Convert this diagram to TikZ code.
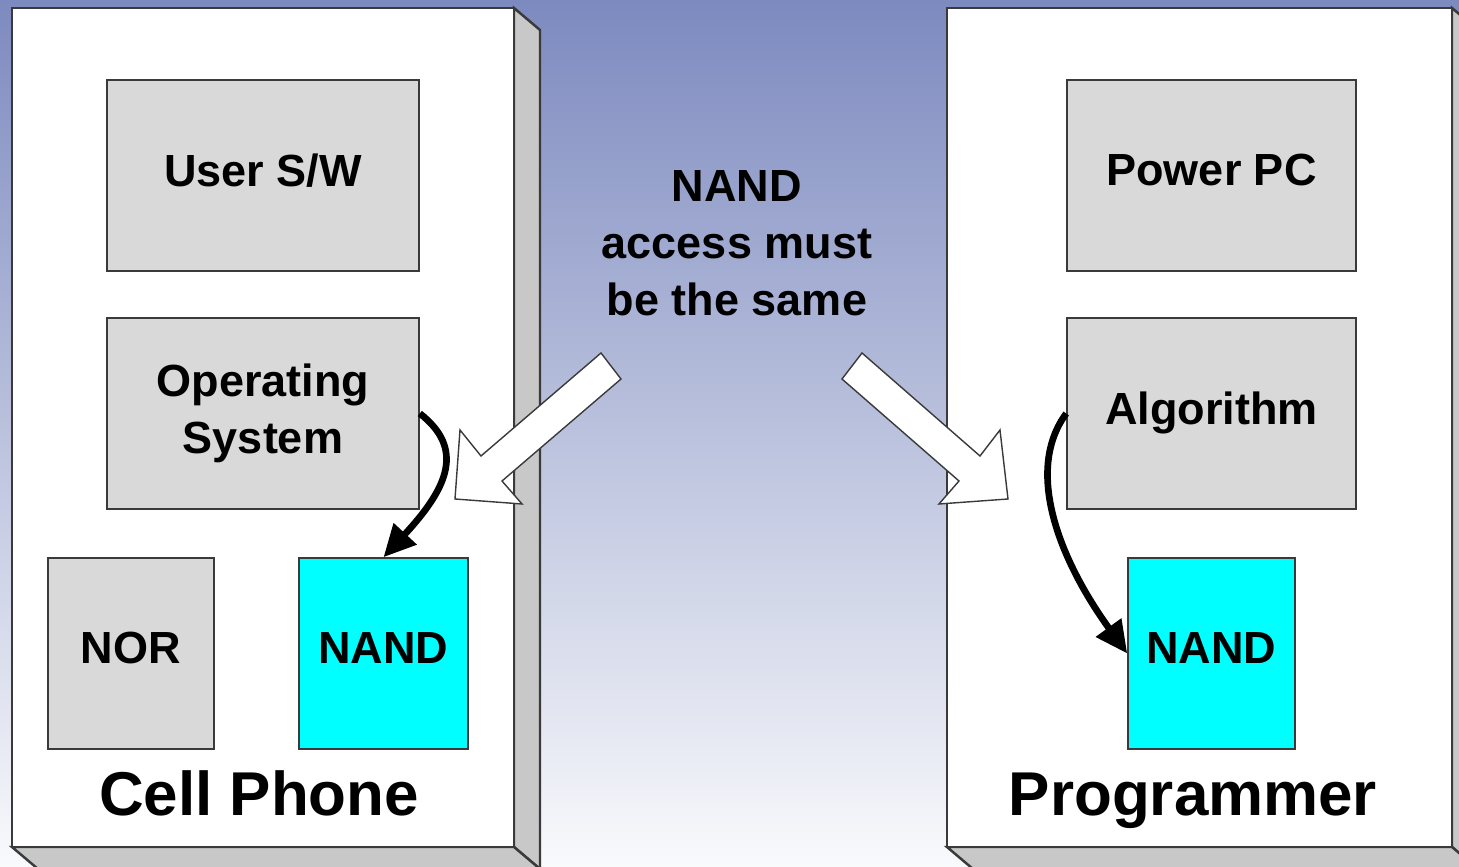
\documentclass[tikz,border=0pt]{standalone}
\usepackage{fontspec}
\setmainfont{Liberation Sans}
\usetikzlibrary{arrows.meta, positioning}
\definecolor{bgtop}{HTML}{7D8ABF}
\definecolor{bgbottom}{HTML}{F9FAFC}
\definecolor{sidegray}{HTML}{C8C8C8}
\definecolor{partgray}{HTML}{D9D9D9}
\definecolor{nandcyan}{HTML}{00FFFF}
\definecolor{edgegray}{HTML}{3A3A3A}

\begin{document}
\begin{tikzpicture}[
    x=0.01cm, y=-0.01cm,
    panel/.style={fill=white, draw=edgegray, line width=0.7pt},
    side/.style={fill=sidegray, draw=edgegray, line width=0.7pt},
    part/.style={draw=edgegray, fill=#1, minimum height=1.91cm, inner sep=0pt, align=center, text depth=0.3em, font=\fontsize{12.8}{16.2}\selectfont\bfseries},
    title/.style={anchor=base, font=\fontsize{17.6}{21}\selectfont\bfseries},
    flow/.style={-{Triangle[length=3.2mm, width=3mm]}, line width=1.9pt},
    bigarrow/.style={fill=white, draw=edgegray, line width=0.4pt, line join=miter},
]
    \useasboundingbox (0,0) rectangle (1459,867);
    \clip (0,0) rectangle (1459,867);
    \fill[top color=bgtop, bottom color=bgbottom] (0,0) rectangle (1459,867);

    % Panels (3D boxes)
    \draw[side] (514,8) -- (540,30) -- (540,869) -- (514,847) -- cycle;
    \draw[side] (12,847) -- (514,847) -- (540,869) -- (38,869) -- cycle;
    \draw[panel] (12,8) rectangle (514,847);

    \draw[side] (1452,8) -- (1478,30) -- (1478,869) -- (1452,847) -- cycle;
    \draw[side] (947,847) -- (1452,847) -- (1478,869) -- (973,869) -- cycle;
    \draw[panel] (947,8) rectangle (1452,847);

    % Cell phone parts
    \node[part=partgray, minimum width=3.12cm] (user) at (263,175.5) {User S/W};
    \node[part=partgray, minimum width=3.12cm] (os) at (263,413.5) {Operating\\System};
    \node[part=partgray, minimum width=1.66cm] (nor) at (131,653.5) {NOR};
    \node[part=nandcyan, minimum width=1.69cm] (nand1) at (383.5,653.5) {NAND};
    \node[title] (phone) at (259,816) {Cell Phone};

    % Programmer parts
    \node[part=partgray, minimum width=2.89cm] (ppc) at (1211.5,175.5) {Power PC};
    \node[part=partgray, minimum width=2.89cm] (algo) at (1211.5,413.5) {Algorithm};
    \node[part=nandcyan, minimum width=1.67cm] (nand2) at (1211.5,653.5) {NAND};
    \node[title] (prog) at (1193,816) {Programmer};

    % Note in the middle
    \node[align=center, font=\fontsize{12.8}{16.2}\selectfont\bfseries] (note) at (737,243) {NAND\\access must\\be the same};

    % Block arrows
    \draw[bigarrow] (601,353) -- (481,456) -- (460,430) -- (455,499) -- (522,504) -- (502,481) -- (621,379) -- cycle;
    \draw[bigarrow] (862,353) -- (980,456) -- (1000,430) -- (1008,499) -- (939,504) -- (959,481) -- (842,379) -- cycle;

    % Access paths
    \draw[flow] (os.east) .. controls +(45,35) and +(65,-70) .. (nand1.north);
    \draw[flow] (algo.west) .. controls +(-42,57) and +(-68,-94) .. (nand2.west);
\end{tikzpicture}
\end{document}
